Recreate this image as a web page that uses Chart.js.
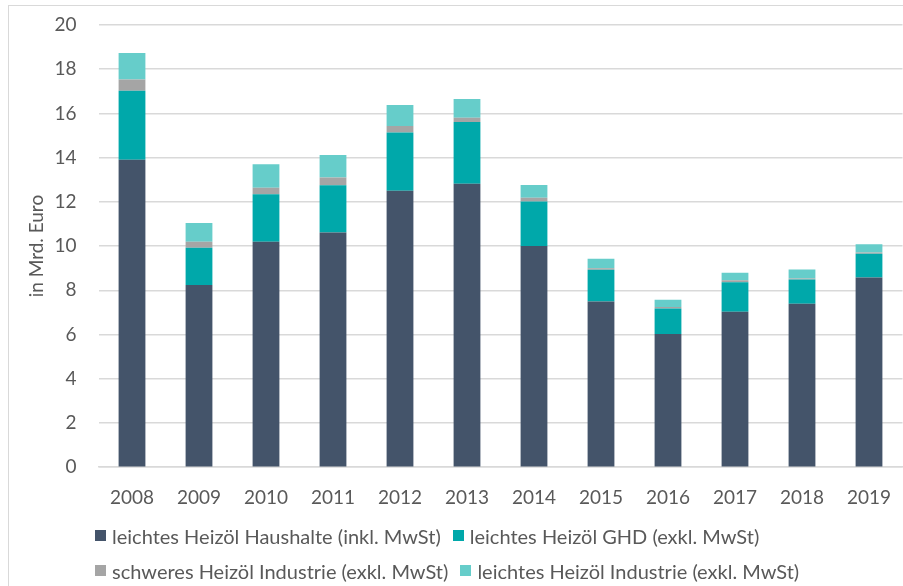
<!DOCTYPE html>
<html>
<head>
<meta charset="utf-8">
<script src="https://cdn.jsdelivr.net/npm/chart.js@4"></script>
<style>
  body { margin: 0; background: #fff; }
  #wrap { position: relative; width: 903px; height: 586px; overflow: hidden; }
  #frame { position: absolute; left: 8px; top: 5px; right: -2px; bottom: -2px;
    border-left: 1px solid #d9d9d9; border-top: 1px solid #d9d9d9; }
  #chart { position: absolute; left: 0; top: 0; }
  #legend { position: absolute; left: 95px; top: 524px; width: 790px;
    display: flex; flex-wrap: wrap; column-gap: 12px; row-gap: 12px;
    font-family: Lato, sans-serif; font-size: 20px; color: #595959; }
  .item { display: flex; align-items: center; white-space: nowrap; height: 23px; }
  .box { width: 11px; height: 11px; margin-right: 6px; }
</style>
</head>
<body>
<div id="wrap">
  <div id="frame"></div>
  <canvas id="chart" width="903" height="586"></canvas>
  <div id="legend"></div>
</div>
<script>
// data
const years = ["2008", "2009", "2010", "2011", "2012", "2013", "2014", "2015", "2016", "2017", "2018", "2019"];
const haushalte = [13.9, 8.24, 10.2, 10.62, 12.5, 12.82, 10.01, 7.5, 6.02, 7.03, 7.39, 8.58];
const ghd = [3.13, 1.68, 2.14, 2.13, 2.64, 2.79, 2.01, 1.43, 1.16, 1.33, 1.1, 1.07];
const schwer = [0.51, 0.28, 0.3, 0.35, 0.29, 0.2, 0.17, 0.07, 0.07, 0.09, 0.05, 0.06];
const industrie = [1.19, 0.85, 1.06, 1.02, 0.95, 0.84, 0.57, 0.43, 0.32, 0.34, 0.4, 0.37];
const yTicks = [0, 2, 4, 6, 8, 10, 12, 14, 16, 18, 20];

const labels = [
  "leichtes Heizöl Haushalte (inkl. MwSt)",
  "leichtes Heizöl GHD (exkl. MwSt)",
  "schweres Heizöl Industrie (exkl. MwSt)",
  "leichtes Heizöl Industrie (exkl. MwSt)"
];
const colors = ["#44546a", "#00a8aa", "#a5a5a5", "#66cdca"];
const series = [haushalte, ghd, schwer, industrie];

const font = { family: "Lato, sans-serif", size: 19 };
const grey = "#595959";

new Chart("chart", {
  type: "bar",
  data: {
    labels: years,
    datasets: series.map((s, i) => ({
      label: labels[i],
      data: s,
      backgroundColor: colors[i],
      categoryPercentage: 1,
      barPercentage: 0.4
    }))
  },
  options: {
    responsive: false,
    animation: false,
    layout: { padding: { top: 25, right: 0.5, bottom: 58, left: 0 } },
    plugins: { legend: { display: false }, tooltip: { enabled: false } },
    scales: {
      x: {
        stacked: true,
        afterFit: (axis) => { axis.paddingLeft = 0; axis.paddingRight = 0; },
        grid: { display: false, drawTicks: false },
        border: { color: "#d9d9d9", width: 1.5 },
        ticks: { font: font, color: grey, padding: 19 }
      },
      y: {
        stacked: true,
        min: 0,
        max: 20,
        afterBuildTicks: (axis) => { axis.ticks = yTicks.map(v => ({ value: v })); },
        // fixed axis width so the plot starts where the reference does
        afterFit: (axis) => { axis.width = 98.5; axis.paddingTop = 0; },
        grid: { color: "#d9d9d9", lineWidth: 1.5, drawTicks: false },
        border: { display: false },
        ticks: { font: font, color: grey, padding: 22 },
        title: { display: true, text: "in Mrd. Euro", font: font, color: grey, padding: { top: 25, bottom: 0 } }
      }
    }
  }
});

// legend
const legend = document.getElementById("legend");
labels.forEach((t, i) => {
  const item = document.createElement("div");
  item.className = "item";
  item.innerHTML = `<span class="box" style="background:${colors[i]}"></span><span>${t}</span>`;
  legend.appendChild(item);
});
</script>
</body>
</html>
